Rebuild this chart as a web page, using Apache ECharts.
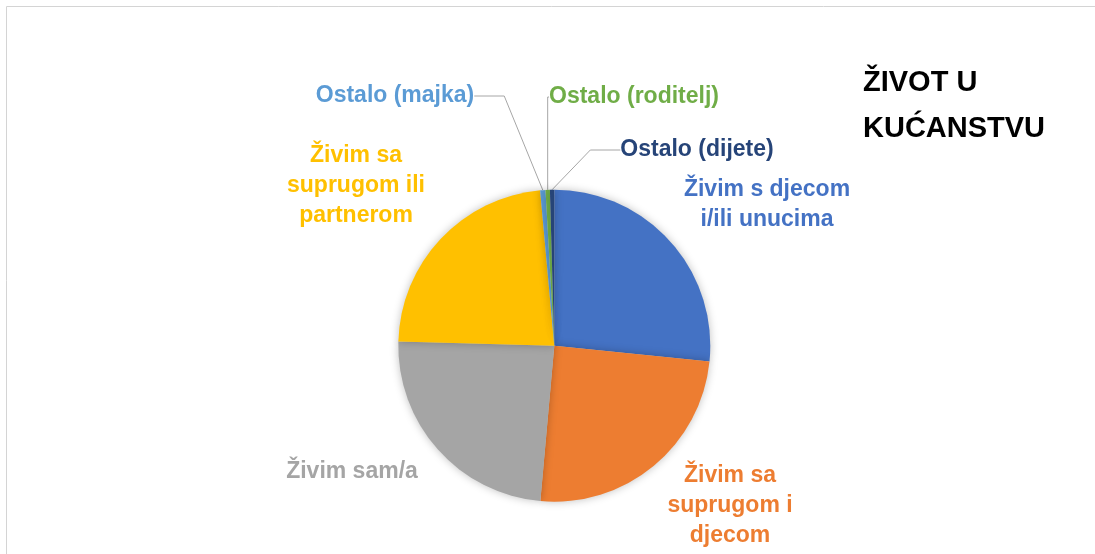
<!DOCTYPE html>
<html>
<head>
<meta charset="utf-8">
<script src="https://cdn.jsdelivr.net/npm/echarts@6/dist/echarts.min.js"></script>
<style>
	html, body { margin: 0; padding: 0; background: #fff; }
	#chart { width: 1095px; height: 554px; }
</style>
</head>
<body>
<div id="chart"></div>
<script>
// categories as Excel wraps them on the chart
const categories = [
	'Živim s djecom\ni/ili unucima',
	'Živim sa\nsuprugom i\ndjecom',
	'Živim sam/a',
	'Živim sa\nsuprugom ili\npartnerom',
	'Ostalo (majka)',
	'Ostalo (roditelj)',
	'Ostalo (dijete)'
];
// share in percent
const shares = [26.6, 24.8, 24.0, 23.1, 0.55, 0.45, 0.45];
const colors = ['#4472C4', '#ED7D31', '#A5A5A5', '#FFC000', '#5B9BD5', '#70AD47', '#264478'];
const withLeader = [false, false, false, false, true, true, true];

// where the data labels sit (label centre)
const labelPos = [[767, 205], [730, 506], [352, 472], [356, 186], [395, 96], [634, 97], [697, 150]];

const myChart = echarts.init(document.getElementById('chart'));

const option = {
	animation: false,
	title: {
		text: 'ŽIVOT U\nKUĆANSTVU',
		left: 863,
		top: 60,
		padding: 0,
		textStyle: {
			fontFamily: 'Liberation Sans',
			fontWeight: 'bold',
			fontSize: 29,
			lineHeight: 46,
			color: '#000'
		}
	},
	graphic: [{
		type: 'rect',
		shape: { x: 6.5, y: 6.5, width: 1100, height: 600 },
		style: { fill: 'none', stroke: '#d4d4d4', lineWidth: 1 },
		silent: true
	}],
	series: [{
		type: 'pie',
		center: [554.3, 345.7],
		radius: 156,
		startAngle: 90,
		clockwise: true,
		avoidLabelOverlap: false,
		itemStyle: {
			borderWidth: 0,
			shadowBlur: 8,
			shadowColor: 'rgba(0,0,0,0.25)'
		},
		label: {
			show: true,
			position: 'outside',
			formatter: '{b}',
			fontFamily: 'Liberation Sans',
			fontWeight: 'bold',
			fontSize: 23,
			lineHeight: 30
		},
		labelLine: {
			show: true,
			smooth: false,
			lineStyle: { color: '#A6A6A6', width: 1 }
		},
		labelLayout: (params) => {
			const p = labelPos[params.dataIndex];
			return { x: p[0], y: p[1], align: 'center', verticalAlign: 'middle' };
		},
		data: categories.map((name, i) => ({
			name: name,
			value: shares[i],
			itemStyle: { color: colors[i] },
			label: { color: colors[i] },
			labelLine: { show: withLeader[i] }
		}))
	}]
};

myChart.setOption(option);
</script>
</body>
</html>
